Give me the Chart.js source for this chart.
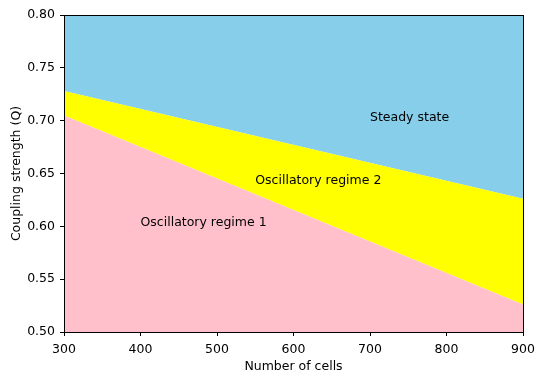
<!DOCTYPE html>
<html>
<head>
<meta charset="utf-8">
<script src="https://cdn.jsdelivr.net/npm/chart.js@4/dist/chart.umd.min.js"></script>
<style>
  html, body { margin: 0; padding: 0; background: #fff; }
  #wrap { width: 545px; height: 382px; }
</style>
</head>
<body>
<div id="wrap"><canvas id="phaseChart" width="545" height="382"></canvas></div>
<script>
// region boundaries
const cells = [300, 900];
const lowerBoundary = [0.705, 0.526];   // pink / yellow
const upperBoundary = [0.728, 0.626];   // yellow / blue
const topLimit = [0.8, 0.8];

const xTicks = [300, 400, 500, 600, 700, 800, 900];
const yTicks = [0.5, 0.55, 0.6, 0.65, 0.7, 0.75, 0.8];

const regionLabels = [
    { text: "Oscillatory regime 1", x: 400, y: 0.60 },
    { text: "Oscillatory regime 2", x: 550, y: 0.64 },
    { text: "Steady state", x: 700, y: 0.70 },
];

const FONT = "'DejaVu Sans', sans-serif";

function toPoints(ys) {
    return cells.map((c, i) => ({ x: c, y: ys[i] }));
}

// frame round the plot + region texts
const framePlugin = {
    id: "frame",
    afterDatasetsDraw(chart) {
        const { ctx, chartArea, scales } = chart;
        ctx.save();
        ctx.fillStyle = "#000";
        ctx.font = "12.5px " + FONT;
        ctx.textAlign = "left";
        ctx.textBaseline = "alphabetic";
        regionLabels.forEach((l) => {
            ctx.fillText(l.text, scales.x.getPixelForValue(l.x), scales.y.getPixelForValue(l.y));
        });
        ctx.strokeStyle = "#000";
        ctx.lineWidth = 1;
        ctx.strokeRect(
            Math.round(chartArea.left) + 0.5,
            Math.round(chartArea.top) + 0.5,
            Math.round(chartArea.right - chartArea.left),
            Math.round(chartArea.bottom - chartArea.top)
        );
        ctx.restore();
    },
};

Chart.defaults.font.family = FONT;
Chart.defaults.font.size = 12.5;
Chart.defaults.color = "#000";

document.addEventListener("DOMContentLoaded", function () {
    const ctx = document.getElementById("phaseChart").getContext("2d");
    new Chart(ctx, {
        type: "line",
        data: {
            datasets: [
                {
                    label: "Oscillatory regime 1",
                    data: toPoints(lowerBoundary),
                    fill: "start",
                    backgroundColor: "#FFC0CB",
                    borderWidth: 0,
                    pointRadius: 0,
                },
                {
                    label: "Oscillatory regime 2",
                    data: toPoints(upperBoundary),
                    fill: "-1",
                    backgroundColor: "#FFFF00",
                    borderWidth: 0,
                    pointRadius: 0,
                },
                {
                    label: "Steady state",
                    data: toPoints(topLimit),
                    fill: "-1",
                    backgroundColor: "#87CEEB",
                    borderWidth: 0,
                    pointRadius: 0,
                },
            ],
        },
        options: {
            responsive: false,
            animation: false,
            layout: { padding: { left: 0, top: 15, right: 22, bottom: 0 } },
            plugins: {
                legend: { display: false },
                tooltip: { enabled: false },
            },
            scales: {
                x: {
                    type: "linear",
                    min: 300,
                    max: 900,
                    afterBuildTicks(axis) {
                        axis.ticks = xTicks.map((v) => ({ value: v }));
                    },
                    afterFit(axis) {
                        axis.height = 50;
                    },
                    ticks: { padding: 6, callback: (v) => String(v) },
                    grid: {
                        drawOnChartArea: false,
                        drawTicks: true,
                        tickLength: 4,
                        color: "#000",
                    },
                    border: { display: true, color: "#000", width: 1 },
                    title: {
                        display: true,
                        text: "Number of cells",
                        padding: { top: 0, bottom: 8 },
                    },
                },
                y: {
                    type: "linear",
                    min: 0.5,
                    max: 0.8,
                    afterBuildTicks(axis) {
                        axis.ticks = yTicks.map((v) => ({ value: v }));
                    },
                    afterFit(axis) {
                        axis.width = 64;
                    },
                    ticks: { padding: 5, callback: (v) => v.toFixed(2) },
                    grid: {
                        drawOnChartArea: false,
                        drawTicks: true,
                        tickLength: 4,
                        color: "#000",
                    },
                    border: { display: true, color: "#000", width: 1 },
                    title: {
                        display: true,
                        text: "Coupling strength (Q)",
                        padding: { top: 9, bottom: 0 },
                    },
                },
            },
        },
        plugins: [framePlugin],
    });
});
</script>
</body>
</html>
